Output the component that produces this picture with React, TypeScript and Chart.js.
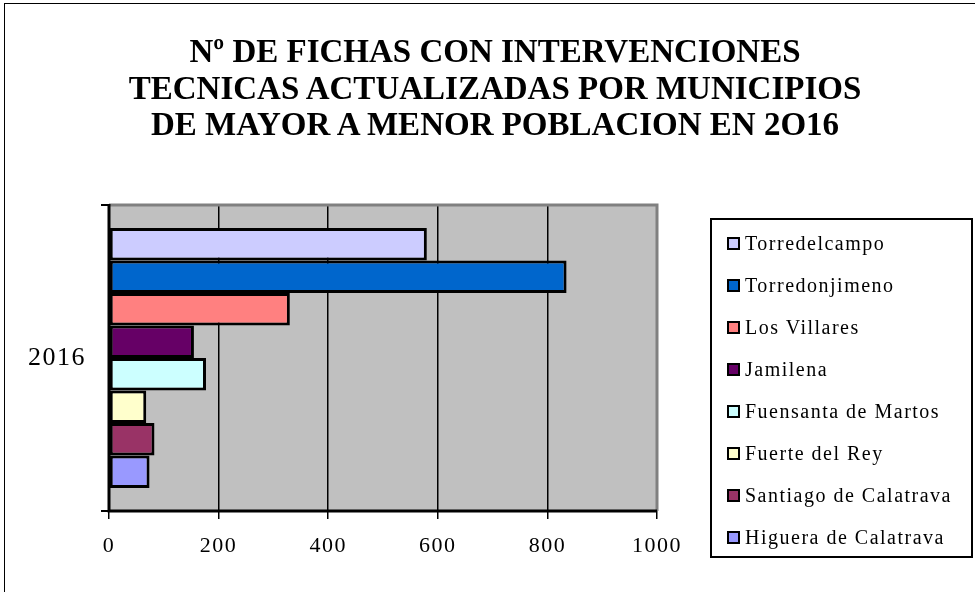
import React, { useEffect, useRef } from "react";
import { Chart, registerables } from "chart.js";

Chart.register(...registerables);

const categories = ["2016"];
const municipios = [
  "Torredelcampo",
  "Torredonjimeno",
  "Los Villares",
  "Jamilena",
  "Fuensanta de Martos",
  "Fuerte del Rey",
  "Santiago de Calatrava",
  "Higuera de Calatrava",
];
const valores = [580, 835, 330, 155, 177, 68, 83, 74];
const colores = ["#CCCCFF", "#0066CC", "#FF8080", "#660066", "#CCFFFF", "#FFFFCC", "#993366", "#9999FF"];
const xTicks = [0, 200, 400, 600, 800, 1000];
const titleLines = [
  "Nº DE FICHAS CON INTERVENCIONES",
  "TECNICAS ACTUALIZADAS POR MUNICIPIOS",
  "DE MAYOR A MENOR POBLACION EN 2O16",
];

const SERIF = "'Liberation Serif', 'DejaVu Serif', serif";

const spacing = {
  id: "spacing",
  beforeUpdate(chart: any) {
    chart.ctx.letterSpacing = "1.5px";
  },
  beforeDraw(chart: any) {
    chart.ctx.letterSpacing = "1.5px";
  },
};

const plotBg = {
  id: "plotBg",
  beforeDraw(chart: any) {
    const { ctx, chartArea: a } = chart;
    ctx.save();
    ctx.fillStyle = "#C0C0C0";
    ctx.fillRect(a.left, a.top, a.right - a.left, a.bottom - a.top);
    ctx.restore();
  },
  afterDraw(chart: any) {
    const { ctx, chartArea: a } = chart;
    ctx.save();
    ctx.strokeStyle = "#808080";
    ctx.lineWidth = 3;
    ctx.beginPath();
    ctx.moveTo(a.left, a.top);
    ctx.lineTo(a.right, a.top);
    ctx.lineTo(a.right, a.bottom);
    ctx.stroke();
    ctx.strokeStyle = "#000";
    ctx.lineWidth = 3;
    ctx.beginPath();
    ctx.moveTo(a.left, a.top - 1);
    ctx.lineTo(a.left, a.bottom);
    ctx.lineTo(a.right, a.bottom);
    ctx.stroke();
    ctx.restore();
  },
};

export default function App() {
  const ref = useRef<HTMLCanvasElement>(null);
  useEffect(() => {
    if (!ref.current) return;
    const chart = new Chart(ref.current, {
      type: "bar",
      data: {
        labels: categories,
        datasets: municipios.map((m, i) => ({
          label: m,
          data: [valores[i]],
          backgroundColor: colores[i],
          borderColor: "#000",
          borderWidth: 3,
          borderSkipped: false,
          barPercentage: 1,
          categoryPercentage: 0.85,
        })),
      },
      options: {
        indexAxis: "y",
        responsive: false,
        animation: false,
        layout: { padding: { left: 0, top: 205, right: 318, bottom: 0 } },
        plugins: { legend: { display: false }, title: { display: false }, tooltip: { enabled: false } },
        scales: {
          x: {
            min: 0,
            max: 1000,
            afterBuildTicks: (s: any) => {
              s.ticks = xTicks.map((v) => ({ value: v }));
            },
            afterFit: (s: any) => {
              s.height = 81;
            },
            grid: {
              color: "#000",
              lineWidth: 1.5,
              tickLength: 8,
              drawTicks: true,
            },
            border: { display: false },
            ticks: {
              color: "#000",
              padding: 14,
              font: { family: SERIF, size: 22 },
              callback: (v: any) => String(v),
            },
          },
          y: {
            afterFit: (s: any) => {
              s.width = 109;
            },
            grid: { drawOnChartArea: false, color: "#000", lineWidth: 2, tickLength: 8 },
            border: { display: false },
            ticks: {
              color: "#000",
              padding: 15,
              font: { family: SERIF, size: 26 },
            },
          },
        },
      },
      plugins: [spacing, plotBg],
    });
    return () => chart.destroy();
  }, []);

  return (
    <div style={{ position: "fixed", left: 0, top: 0, width: 975, height: 592, background: "#fff", overflow: "hidden" }}>
      <div
        style={{
          position: "absolute",
          left: 4,
          top: 3,
          width: 1000,
          height: 700,
          border: "1.5px solid #000",
        }}
      />
      <canvas ref={ref} width={975} height={592} style={{ position: "absolute", left: 0, top: 0 }} />
      <div
        style={{
          position: "absolute",
          left: 0,
          width: 990,
          top: 33,
          textAlign: "center",
          fontFamily: SERIF,
          fontWeight: "bold",
          fontSize: 33,
          lineHeight: "36.5px",
          color: "#000",
        }}
      >
        {titleLines.map((t, i) => (
          <div key={i}>{t}</div>
        ))}
      </div>
      <div
        style={{
          position: "absolute",
          left: 710,
          top: 218,
          width: 259,
          height: 336,
          border: "2px solid #000",
          fontFamily: SERIF,
          fontSize: 20,
          letterSpacing: "1.5px",
          color: "#000",
        }}
      >
        {municipios.map((m, i) => (
          <div
            key={i}
            style={{ position: "absolute", left: 15, top: 10 + i * 42, height: 26, display: "flex", alignItems: "center", whiteSpace: "nowrap" }}
          >
            <span
              style={{
                display: "inline-block",
                width: 9,
                height: 9,
                background: colores[i],
                border: "2px solid #000",
                marginRight: 5,
              }}
            />
            <span>{m}</span>
          </div>
        ))}
      </div>
    </div>
  );
}
